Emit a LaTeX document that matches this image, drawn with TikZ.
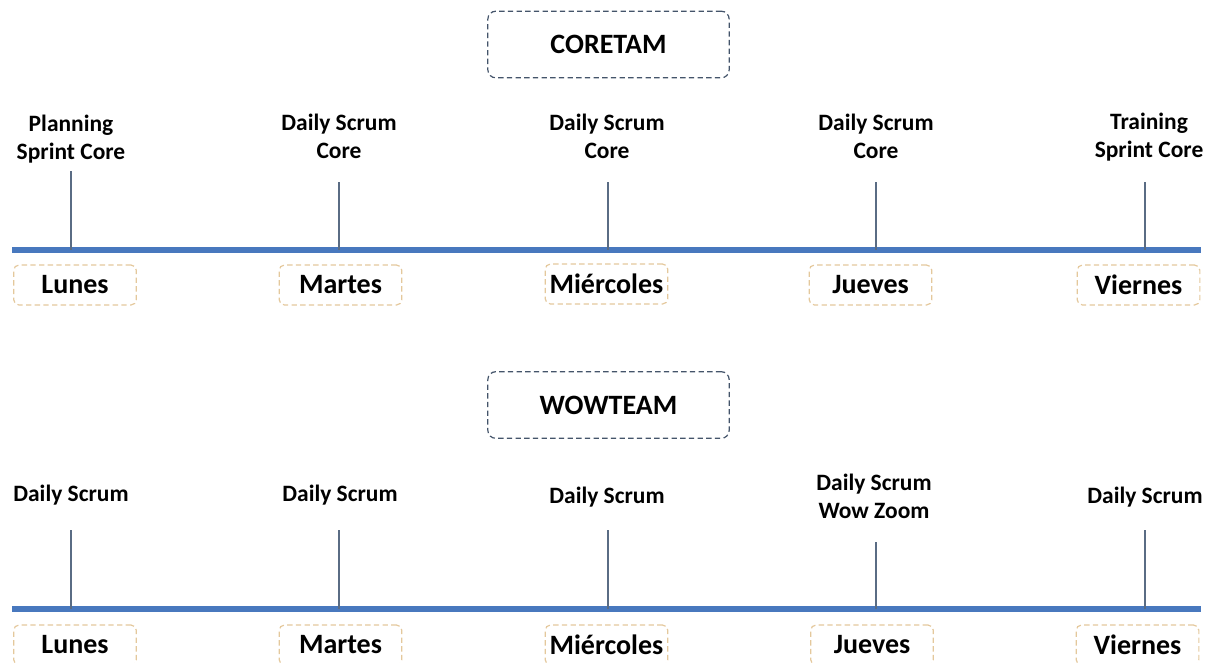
\documentclass[tikz,border=0pt]{standalone}
\usepackage{fontspec}
\setmainfont{Carlito}
\definecolor{axisblue}{RGB}{72,120,190}
\definecolor{tickgray}{RGB}{90,108,132}
\definecolor{teamline}{RGB}{68,84,106}
\definecolor{dayline}{RGB}{228,200,156}
\tikzset{
  teambox/.style={draw=teamline, dash pattern=on 4pt off 2.5pt, rounded corners=6pt,
    line width=0.9pt, minimum width=181pt, minimum height=50pt, inner sep=0pt,
    font=\bfseries\fontsize{21}{25}\selectfont},
  daybox/.style={draw=dayline, dash pattern=on 4pt off 2.5pt, rounded corners=4pt,
    line width=0.9pt, minimum width=92pt, minimum height=30pt, inner sep=0pt,
    font=\bfseries\fontsize{21}{25}\selectfont},
  event/.style={align=center, inner sep=0pt, font=\bfseries\fontsize{17.6}{21}\selectfont},
  axisline/.style={axisblue, line width=4.5pt},
  tickline/.style={tickgray, line width=0.8pt}
}
\begin{document}
\begin{tikzpicture}[x=0.75pt,y=-0.75pt]
\useasboundingbox (0,0) rectangle (1212,662);
\clip (0,0) rectangle (1212,662);

% ---------- CORETAM ----------
\node[teambox] (core) at (608.5,44.5) {CORETAM};

\coordinate (a1s) at (12,250);
\coordinate (a1e) at (1201,250);
\draw[axisline] (a1s) -- (a1e);

\node[event] (e11) at (71,139) {Planning\\Sprint Core};
\node[event] (e12) at (339,136) {Daily Scrum\\Core};
\node[event] (e13) at (607,136) {Daily Scrum\\Core};
\node[event] (e14) at (876,136) {Daily Scrum\\Core};
\node[event] (e15) at (1149,137) {Training\\Sprint Core};

\coordinate (t11) at (71,171);  \coordinate (b11) at (71,250);
\coordinate (t12) at (339,182); \coordinate (b12) at (339,250);
\coordinate (t13) at (608,182); \coordinate (b13) at (608,250);
\coordinate (t14) at (876,182); \coordinate (b14) at (876,250);
\coordinate (t15) at (1145,182);\coordinate (b15) at (1145,250);
\foreach \i in {1,...,5} \draw[tickline] (t1\i) -- (b1\i);

\node[daybox] (d11) at (75,285) {Lunes};
\node[daybox] (d12) at (340.5,285) {Martes};
\node[daybox] (d13) at (606.5,284) {Miércoles};
\node[daybox] (d14) at (870.5,285) {Jueves};
\node[daybox] (d15) at (1138.5,285) {Viernes};

% ---------- WOWTEAM ----------
\node[teambox] (wow) at (608.5,405) {WOWTEAM};

\coordinate (a2s) at (12,609);
\coordinate (a2e) at (1201,609);
\draw[axisline] (a2s) -- (a2e);

\node[event] (e21) at (71,495) {Daily Scrum};
\node[event] (e22) at (340,495) {Daily Scrum};
\node[event] (e23) at (607,497) {Daily Scrum};
\node[event] (e24) at (874,496) {Daily Scrum\\Wow Zoom};
\node[event] (e25) at (1145,497) {Daily Scrum};

\coordinate (t21) at (71,530);  \coordinate (b21) at (71,609);
\coordinate (t22) at (339,530); \coordinate (b22) at (339,609);
\coordinate (t23) at (608,530); \coordinate (b23) at (608,609);
\coordinate (t24) at (876,542); \coordinate (b24) at (876,609);
\coordinate (t25) at (1145,530);\coordinate (b25) at (1145,609);
\foreach \i in {1,...,5} \draw[tickline] (t2\i) -- (b2\i);

\node[daybox] (d21) at (75,645) {Lunes};
\node[daybox] (d22) at (340.5,645) {Martes};
\node[daybox] (d23) at (606.5,645) {Miércoles};
\node[daybox] (d24) at (872,645) {Jueves};
\node[daybox] (d25) at (1137.5,645) {Viernes};
\end{tikzpicture}
\end{document}
